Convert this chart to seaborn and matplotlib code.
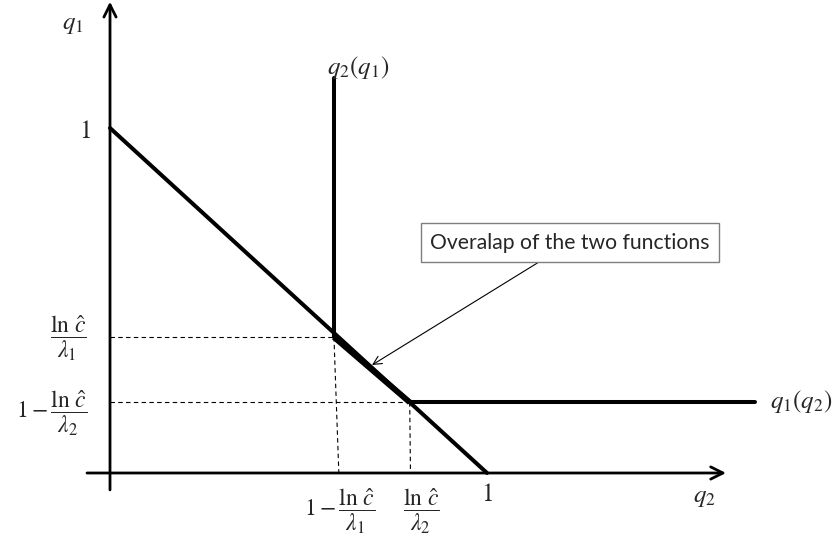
import matplotlib
matplotlib.use("Agg")
import matplotlib.pyplot as plt
import seaborn as sns
import pandas as pd

sns.set_style("white")
plt.rcParams['font.family'] = ['Lato', 'DejaVu Sans']
plt.rcParams['mathtext.fontset'] = 'stix'

# ---- data (in units where the budget line goes from 1 to 1) ----
budget_q2 = [0.0, 1.0]
budget_q1 = [1.0, 0.0]
resp2_q2 = [0.594, 0.594]          # q2(q1) vertical branch
resp2_q1 = [0.394, 1.145]
resp1_q2 = [0.795, 1.711]          # q1(q2) horizontal branch
resp1_q1 = [0.205, 0.205]
overlap_q2 = [0.594, 0.795]
overlap_q1 = [0.394, 0.205]
guide_h_q2 = [[0.0, 0.594], [0.0, 0.795]]
guide_h_q1 = [[0.394, 0.394], [0.205, 0.205]]
guide_v_q2 = [[0.594, 0.607], [0.795, 0.797]]
guide_v_q1 = [[0.394, 0.0], [0.205, 0.0]]

fig = plt.figure(figsize=(8.37, 5.45), dpi=100)
ax = fig.add_axes([0, 0, 1, 1])
ax.set_xlim(-110 / 377, 727 / 377)
ax.set_ylim(-72 / 345, 473 / 345)
ax.axis('off')

def seg(xs, ys, **kw):
    df = pd.DataFrame({'x': xs, 'y': ys})
    sns.lineplot(data=df, x='x', y='y', sort=False, estimator=None, ax=ax, **kw)

# guides
for xs, ys in zip(guide_h_q2, guide_h_q1):
    seg(xs, ys, color='black', linewidth=0.8, linestyle=(0, (4, 3)))
for xs, ys in zip(guide_v_q2, guide_v_q1):
    seg(xs, ys, color='black', linewidth=0.8, linestyle=(0, (4, 3)))

# axes with arrows
ax.annotate('', xy=(0, 1.366), xytext=(0, -0.049),
            arrowprops=dict(arrowstyle='->', lw=2.0, color='black',
                            mutation_scale=22, shrinkA=0, shrinkB=0))
ax.annotate('', xy=(1.634, 0), xytext=(-0.061, 0),
            arrowprops=dict(arrowstyle='->', lw=2.0, color='black',
                            mutation_scale=22, shrinkA=0, shrinkB=0))

# main lines
seg(budget_q2, budget_q1, color='black', linewidth=2.9)
seg(resp2_q2, resp2_q1, color='black', linewidth=2.9)
seg(resp1_q2, resp1_q1, color='black', linewidth=2.9)
seg(overlap_q2, overlap_q1, color='black', linewidth=4.2, solid_capstyle='butt')

fs = 18
ffs = 17
ax.text(-0.098, 1.299, r'$q_1$', fontsize=fs, ha='center', va='center')
ax.text(-0.066, 0.994, r'$1$', fontsize=fs, ha='center', va='center')
ax.text(-0.111, 0.391, r'$\dfrac{\ln\,\hat{c}}{\lambda_1}$', fontsize=ffs, ha='center', va='center')
ax.text(-0.061, 0.174, r'$1-\dfrac{\ln\,\hat{c}}{\lambda_2}$', fontsize=ffs, ha='right', va='center')
ax.text(0.610, -0.110, r'$1-\dfrac{\ln\,\hat{c}}{\lambda_1}$', fontsize=ffs, ha='center', va='center')
ax.text(0.825, -0.110, r'$\dfrac{\ln\,\hat{c}}{\lambda_2}$', fontsize=ffs, ha='center', va='center')
ax.text(1.0, -0.058, r'$1$', fontsize=fs, ha='center', va='center')
ax.text(1.578, -0.072, r'$q_2$', fontsize=fs, ha='center', va='center')
ax.text(0.658, 1.174, r'$q_2(q_1)$', fontsize=fs, ha='center', va='center')
ax.text(1.751, 0.206, r'$q_1(q_2)$', fontsize=fs, ha='left', va='center')

ax.annotate('Overalap of the two functions', xy=(0.695, 0.313), xytext=(1.220, 0.667),
            fontsize=15.2, ha='center', va='center',
            bbox=dict(boxstyle='square,pad=0.45', fc='white', ec='#7f7f7f', lw=1.0),
            arrowprops=dict(arrowstyle='->', lw=0.8, color='black', shrinkA=0, shrinkB=0))

fig.savefig('out.png', dpi=100)
